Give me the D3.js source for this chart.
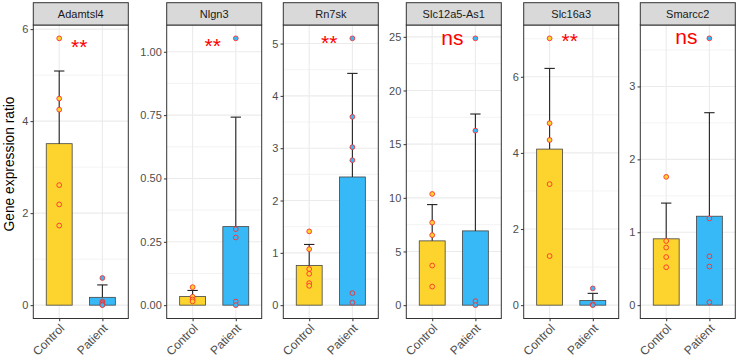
<!DOCTYPE html>
<html>
<head>
<meta charset="utf-8">
<script src="https://cdn.jsdelivr.net/npm/d3@7"></script>
<style>
  body { margin: 0; background: #fff; }
  svg { display: block; font-family: Arial, "Liberation Sans", sans-serif; }
</style>
</head>
<body>
<div id="container"></div>
<script>
let w = 738;
let h = 363;

// ---- data ----
let genes = ["Adamtsl4", "Nlgn3", "Rn7sk", "Slc12a5-As1", "Slc16a3", "Smarcc2"];
let groups = ["Control", "Patient"];

let controlPoints = [
  [5.80, 4.49, 4.25, 2.61, 2.19, 1.73],
  [0.071, 0.033, 0.022, 0.015],
  [1.41, 1.07, 0.69, 0.60, 0.42, 0.37],
  [10.36, 7.69, 6.52, 3.69, 1.73],
  [7.01, 4.78, 4.34, 3.18, 1.29],
  [1.76, 0.88, 0.79, 0.66, 0.52]
];
let patientPoints = [
  [0.59, 0.08, 0.05, 0.02, 0.01, 0.0],
  [1.053, 0.300, 0.267, 0.014, 0.0],
  [5.10, 3.60, 3.02, 2.77, 0.23, 0.05],
  [24.86, 16.26, 0.37, 0.0],
  [0.44, 0.02, 0.0],
  [3.66, 1.19, 0.67, 0.53, 0.04]
];
let controlMean = [3.51, 0.034, 0.76, 5.99, 4.10, 0.91];
let patientMean = [0.17, 0.31, 2.45, 6.92, 0.12, 1.22];
let controlUpper = [5.09, 0.058, 1.16, 9.37, 6.22, 1.40];
let patientUpper = [0.44, 0.742, 4.43, 17.81, 0.31, 2.64];

let sigLabels = ["**", "**", "**", "ns", "**", "ns"];
let sigY = [5.72, 1.041, 5.10, 24.78, 7.08, 3.66];

let yTicks = [
  [0, 2, 4, 6],
  [0, 0.25, 0.5, 0.75, 1],
  [0, 1, 2, 3, 4, 5],
  [0, 5, 10, 15, 20, 25],
  [0, 2, 4, 6],
  [0, 1, 2, 3]
];
let yTickFormats = ["d", ".2f", "d", "d", "d", "d"];

// ---- layout ----
let panelLefts = [33.3, 166.7, 283.3, 406.3, 523.7, 640.3];
let panelW = 95;
let stripTop = 2.7;
let panelTop = 25;
let panelBottom = 318.5;
let tickLen = 2.75;

let fills = { Control: "#FDD32E", Patient: "#36B9F6" };

let viz = d3.select("#container")
  .append("svg")
    .attr("width", w)
    .attr("height", h)
;

viz.append("text")
  .text("Gene expression ratio")
  .attr("transform", "translate(14,164) rotate(-90)")
  .attr("text-anchor", "middle")
  .attr("font-size", "13.8px")
  .attr("fill", "#000")
;

genes.forEach(function(gene, i){
  let left = panelLefts[i];
  let g = viz.append("g").attr("class", "panel");

  let allVals = controlPoints[i].concat(patientPoints[i], [controlUpper[i], patientUpper[i]]);
  let maxV = d3.max(allVals);
  let pad = maxV * 0.05;

  let yScale = d3.scaleLinear().domain([-pad, maxV + pad]).range([panelBottom, panelTop]);
  let xScale = d3.scalePoint().domain(groups).range([left, left + panelW]).padding(0.6);
  let step = xScale.step();

  // background
  g.append("rect")
    .attr("x", left).attr("y", panelTop)
    .attr("width", panelW).attr("height", panelBottom - panelTop)
    .attr("fill", "#fff");

  // minor grid
  let ticks = yTicks[i];
  let tstep = ticks[1] - ticks[0];
  let minors = ticks.map(function(t){ return t + tstep / 2; })
    .filter(function(t){ return t < maxV + pad; });
  g.selectAll(".minor").data(minors).enter().append("line")
    .attr("x1", left).attr("x2", left + panelW)
    .attr("y1", function(d){ return yScale(d); })
    .attr("y2", function(d){ return yScale(d); })
    .attr("stroke", "#ebebeb").attr("stroke-width", 0.6);

  // major grid
  g.selectAll(".major").data(ticks).enter().append("line")
    .attr("x1", left).attr("x2", left + panelW)
    .attr("y1", function(d){ return yScale(d); })
    .attr("y2", function(d){ return yScale(d); })
    .attr("stroke", "#ebebeb").attr("stroke-width", 1.1);
  g.selectAll(".vmajor").data(groups).enter().append("line")
    .attr("x1", function(d){ return xScale(d); })
    .attr("x2", function(d){ return xScale(d); })
    .attr("y1", panelTop).attr("y2", panelBottom)
    .attr("stroke", "#ebebeb").attr("stroke-width", 1.1);

  let summary = [
    { grp: "Control", mean: controlMean[i], upper: controlUpper[i], pts: controlPoints[i] },
    { grp: "Patient", mean: patientMean[i], upper: patientUpper[i], pts: patientPoints[i] }
  ];

  // bars
  g.selectAll(".bar").data(summary).enter().append("rect")
    .attr("x", function(d){ return xScale(d.grp) - step * 0.3; })
    .attr("y", function(d){ return yScale(d.mean); })
    .attr("width", step * 0.6)
    .attr("height", function(d){ return yScale(0) - yScale(d.mean); })
    .attr("fill", function(d){ return fills[d.grp]; })
    .attr("stroke", "#444").attr("stroke-width", 0.8);

  // error bars (upper only)
  let eb = g.selectAll(".err").data(summary).enter().append("g");
  eb.append("line")
    .attr("x1", function(d){ return xScale(d.grp); })
    .attr("x2", function(d){ return xScale(d.grp); })
    .attr("y1", function(d){ return yScale(d.mean); })
    .attr("y2", function(d){ return yScale(d.upper); })
    .attr("stroke", "#222").attr("stroke-width", 1.1);
  eb.append("line")
    .attr("x1", function(d){ return xScale(d.grp) - step * 0.12; })
    .attr("x2", function(d){ return xScale(d.grp) + step * 0.12; })
    .attr("y1", function(d){ return yScale(d.upper); })
    .attr("y2", function(d){ return yScale(d.upper); })
    .attr("stroke", "#222").attr("stroke-width", 1.1);

  // points
  summary.forEach(function(s){
    g.selectAll(".pt-" + s.grp).data(s.pts).enter().append("circle")
      .attr("cx", xScale(s.grp))
      .attr("cy", function(d){ return yScale(d); })
      .attr("r", 2.4)
      .attr("fill", fills[s.grp])
      .attr("stroke", "#ff2a2a").attr("stroke-opacity", 0.85)
      .attr("stroke-width", 1);
  });

  // significance label
  let isStars = sigLabels[i] == "**";
  g.append("text")
    .text(sigLabels[i])
    .attr("x", left + panelW / 2 - 1.5)
    .attr("y", yScale(sigY[i]) + (isStars ? 12 : 5.5))
    .attr("text-anchor", "middle")
    .attr("font-size", "21px")
    .attr("fill", "#ff0000");

  // panel border
  g.append("rect")
    .attr("x", left).attr("y", panelTop)
    .attr("width", panelW).attr("height", panelBottom - panelTop)
    .attr("fill", "none").attr("stroke", "#333").attr("stroke-width", 1);

  // strip
  g.append("rect")
    .attr("x", left).attr("y", stripTop)
    .attr("width", panelW).attr("height", panelTop - stripTop)
    .attr("fill", "#d9d9d9").attr("stroke", "#333").attr("stroke-width", 1);
  g.append("text")
    .text(gene)
    .attr("x", left + panelW / 2)
    .attr("y", (stripTop + panelTop) / 2 + 3.9)
    .attr("text-anchor", "middle")
    .attr("font-size", "11px")
    .attr("fill", "#1a1a1a");

  // y axis
  let yAxis = d3.axisLeft(yScale)
    .tickValues(ticks)
    .tickFormat(d3.format(yTickFormats[i]))
    .tickSize(tickLen)
    .tickPadding(2.2);
  let yAxisGroup = g.append("g").attr("class", "yaxis")
    .attr("transform", "translate(" + left + ",0)")
    .call(yAxis);
  yAxisGroup.select(".domain").remove();
  yAxisGroup.selectAll("line").attr("stroke", "#333");
  yAxisGroup.selectAll("text")
    .attr("fill", "#4d4d4d")
    .attr("font-size", "11px")
    .attr("font-family", "Arial, 'Liberation Sans', sans-serif");

  // x axis
  let xAxis = d3.axisBottom(xScale).tickSize(tickLen).tickPadding(2.2);
  let xAxisGroup = g.append("g").attr("class", "xaxis")
    .attr("transform", "translate(0," + panelBottom + ")")
    .call(xAxis);
  xAxisGroup.select(".domain").remove();
  xAxisGroup.selectAll("line").attr("stroke", "#333");
  xAxisGroup.selectAll("text")
    .attr("fill", "#4d4d4d")
    .attr("font-size", "12px")
    .attr("font-family", "Arial, 'Liberation Sans', sans-serif")
    .attr("text-anchor", "end")
    .attr("dy", null)
    .attr("y", 0)
    .attr("transform", "translate(5.5,10.5) rotate(-45)");
});
</script>
</body>
</html>
